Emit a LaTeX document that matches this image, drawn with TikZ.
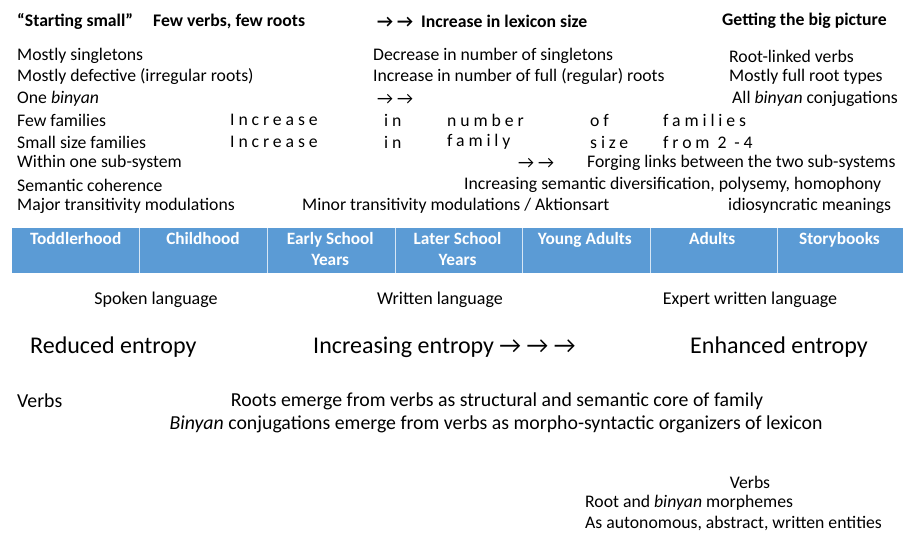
\documentclass[tikz,border=0pt]{standalone}
\usepackage{fontspec}
\setmainfont{Carlito}
\definecolor{barblue}{RGB}{91,155,213}

\begin{document}
\begin{tikzpicture}[x=1pt, y=-1pt, every node/.style={anchor=west, inner sep=0pt, font=\fontsize{17.7}{21}\selectfont}]
  \tikzset{
    head/.style={font=\fontsize{17.7}{21}\selectfont\bfseries},
    spread/.style={font=\fontsize{17.7}{21}\selectfont\addfontfeature{LetterSpace=22}},
    stage/.style={anchor=north, align=center, text=white, font=\fontsize{17.3}{21}\selectfont\bfseries},
    mid/.style={font=\fontsize{18}{21}\selectfont},
    core/.style={font=\fontsize{19.8}{23}\selectfont},
    big/.style={font=\fontsize{24}{28}\selectfont}
  }
  \useasboundingbox (0,0) rectangle (903,533);
  % Top rows
  \node[head] (start) at (17,21) {``Starting small''};
  \node[head] (fewverbs) at (153,21) {Few verbs, few roots};
  \node[head] (lexicon) at (377,21) {→ →~~Increase in lexicon size};
  \node[head] (bigpic) at (722,21) {Getting the big picture};

  \node (sing) at (17,56) {Mostly singletons};
  \node (defect) at (17,77) {Mostly defective (irregular roots)};
  \node (onebin) at (17,99) {One \textit{binyan}};
  \node (fewfam) at (17,120) {Few families};
  \node (smallfam) at (17,142) {Small size families};
  \node (within) at (17,163) {Within one sub-system};
  \node (coher) at (17,185) {Semantic coherence};
  \node (major) at (17,206) {Major transitivity modulations};

  \node (decsing) at (373,56) {Decrease in number of singletons};
  \node (incfull) at (373,77) {Increase in number of full (regular) roots};
  \node (arrbin) at (377,99) {→ →};
  \node (minor) at (302,206) {Minor transitivity modulations / Aktionsart};

  \node (rootverbs) at (729,56) {Root-linked verbs};
  \node (fulltypes) at (729,77) {Mostly full root types};
  \node (allbin) at (732,99) {All \textit{binyan} conjugations};

  % spread-out rows
  \node[spread] (incA) at (230,120) {Increase};
  \node[spread] (inA) at (384,120) {in};
  \node[spread] (numA) at (447,120) {number};
  \node[spread] (ofA) at (590,120) {of};
  \node[spread] (famA) at (663,120) {families};
  \node[spread] (incB) at (230,142) {Increase};
  \node[spread] (inB) at (384,142) {in};
  \node[spread] (famB) at (447,142) {family};
  \node[spread] (sizeB) at (590,142) {size};
  \node[spread] (fromB) at (663,142) {from~2 -4};

  \node (arrlink) at (518,163) {→ →};
  \node (forging) at (587,163) {Forging links between the two sub-systems};
  \node (divers) at (464,185) {Increasing semantic diversification, polysemy, homophony};
  \node (idio) at (728,206) {idiosyncratic meanings};

  % Stages bar
  \fill[barblue] (12,228) rectangle (903,273);
  \foreach \x in {139,267,395,522,650,777}
    \draw[white!75!barblue, line width=1pt] (\x,228) -- (\x,273);
  \foreach \lab [count=\i] in {Toddlerhood, Childhood, {Early School\\Years}, {Later School\\Years}, {Young Adults}, Adults, Storybooks}
    \node[stage] (stage\i) at ({12+127.3*(\i-0.5)},232) {\lab};

  % Lower part
  \node[mid, anchor=center] (spoken) at (156,300) {Spoken language};
  \node[mid, anchor=center] (written) at (440,300) {Written language};
  \node[mid, anchor=center] (expert) at (750,300) {Expert written language};

  \node[big] (reduced) at (30,347) {Reduced entropy};
  \node[big] (increasing) at (313,347) {Increasing entropy → → →};
  \node[big] (enhanced) at (690,347) {Enhanced entropy};

  \node[core] (verbs) at (17,401) {Verbs};
  \node[core, anchor=center] (roots) at (497,401) {Roots emerge from verbs as structural and semantic core of family};
  \node[core, anchor=center] (binyan) at (496,424) {\textit{Binyan} conjugations emerge from verbs as morpho-syntactic organizers of lexicon};

  \node[anchor=center] (verbsB) at (750,482) {Verbs};
  \node (morph) at (585,503) {Root and \textit{binyan} morphemes};
  \node (auto) at (585,523) {As autonomous, abstract, written entities};
\end{tikzpicture}
\end{document}
